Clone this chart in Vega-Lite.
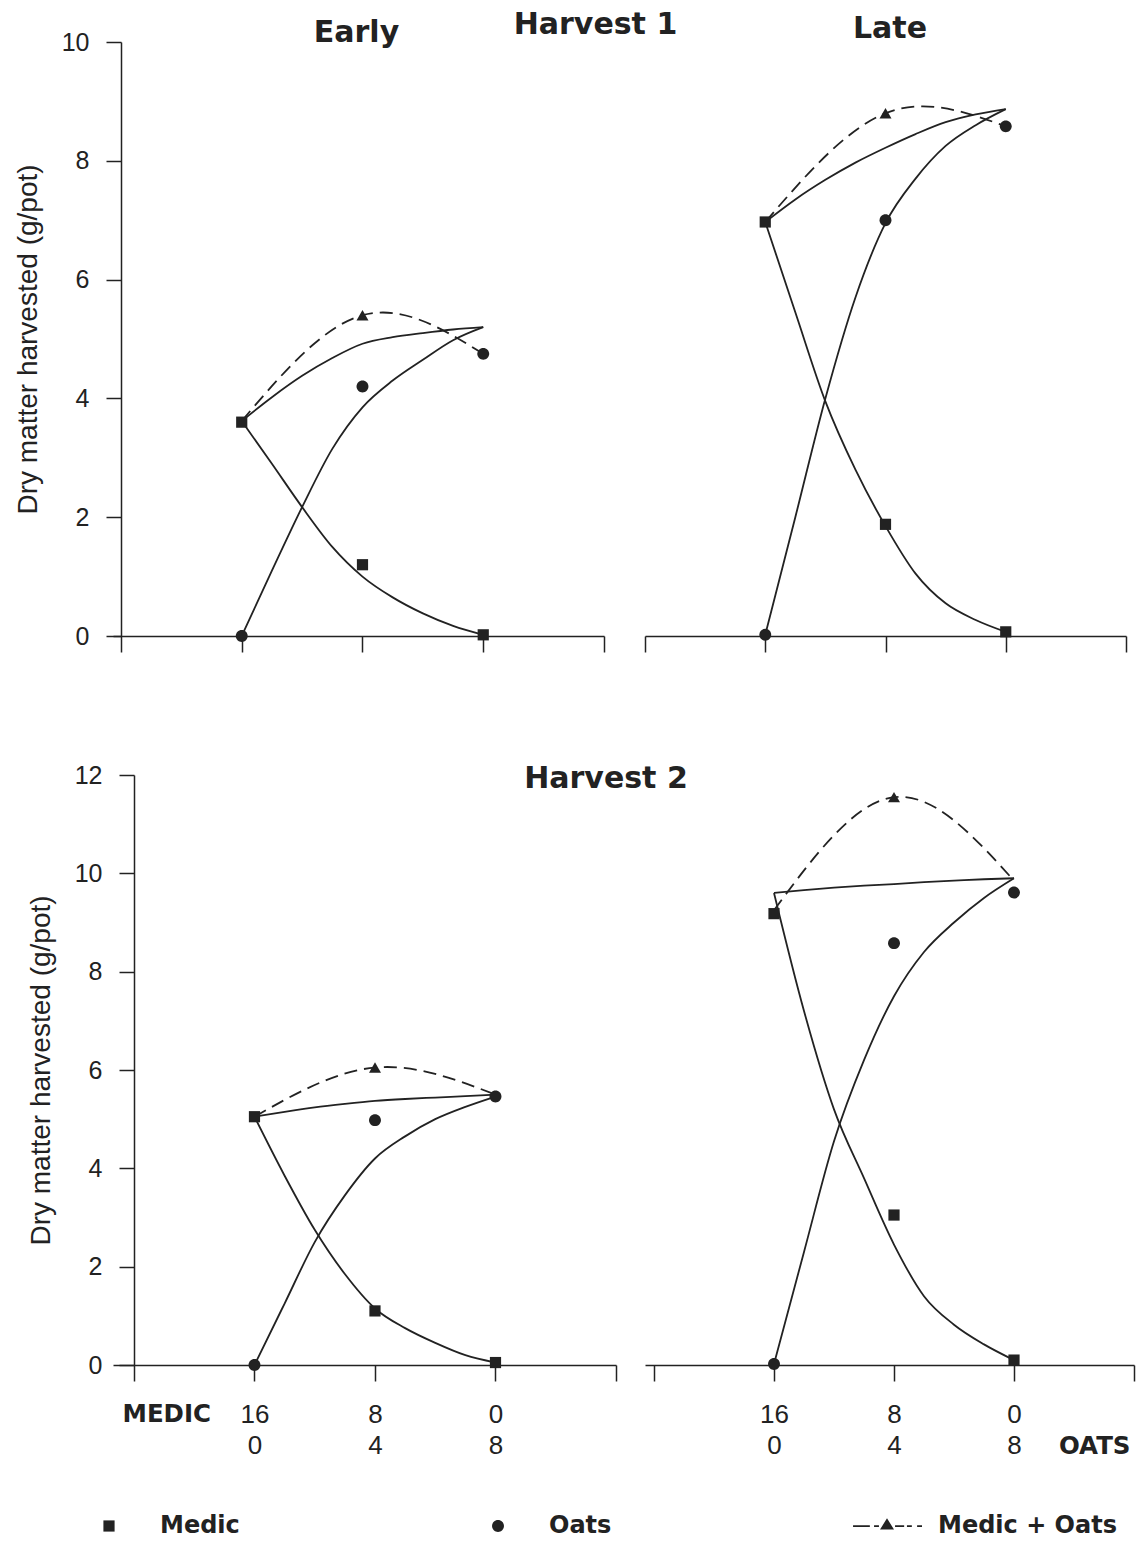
{
  "$schema": "https://vega.github.io/schema/vega-lite/v6.json",
  "background": "white",
  "padding": {"left": 14, "top": 10, "right": 5, "bottom": 5},
  "config": {"view": {"stroke": null}, "axis": {"grid": false}},
  "title": {"text": "Harvest 1", "font": "DejaVu Sans", "fontSize": 30, "fontWeight": "bold", "color": "#222", "anchor": "middle", "baseline": "alphabetic", "offset": -10, "dx": 21, "dy": 40},
  "datasets": {
    "obs": [
      {"panel": "H1E", "series": "Medic", "x": 1, "dm": 3.6},
      {"panel": "H1E", "series": "Medic", "x": 2, "dm": 1.2},
      {"panel": "H1E", "series": "Medic", "x": 3, "dm": 0.02},
      {"panel": "H1E", "series": "Oats", "x": 1, "dm": 0},
      {"panel": "H1E", "series": "Oats", "x": 2, "dm": 4.2},
      {"panel": "H1E", "series": "Oats", "x": 3, "dm": 4.75},
      {"panel": "H1L", "series": "Medic", "x": 1, "dm": 6.97},
      {"panel": "H1L", "series": "Medic", "x": 2, "dm": 1.88},
      {"panel": "H1L", "series": "Medic", "x": 3, "dm": 0.07},
      {"panel": "H1L", "series": "Oats", "x": 1, "dm": 0.02},
      {"panel": "H1L", "series": "Oats", "x": 2, "dm": 7.0},
      {"panel": "H1L", "series": "Oats", "x": 3, "dm": 8.58},
      {"panel": "H2E", "series": "Medic", "x": 1, "dm": 5.05},
      {"panel": "H2E", "series": "Medic", "x": 2, "dm": 1.1},
      {"panel": "H2E", "series": "Medic", "x": 3, "dm": 0.05},
      {"panel": "H2E", "series": "Oats", "x": 1, "dm": 0},
      {"panel": "H2E", "series": "Oats", "x": 2, "dm": 4.98},
      {"panel": "H2E", "series": "Oats", "x": 3, "dm": 5.46},
      {"panel": "H2L", "series": "Medic", "x": 1, "dm": 9.18},
      {"panel": "H2L", "series": "Medic", "x": 2, "dm": 3.05},
      {"panel": "H2L", "series": "Medic", "x": 3, "dm": 0.1},
      {"panel": "H2L", "series": "Oats", "x": 1, "dm": 0.02},
      {"panel": "H2L", "series": "Oats", "x": 2, "dm": 8.58},
      {"panel": "H2L", "series": "Oats", "x": 3, "dm": 9.61}
    ],
    "tot": [
      {"panel": "H1E", "x": 1, "dm": 3.62},
      {"panel": "H1E", "x": 2, "dm": 5.4},
      {"panel": "H1E", "x": 3, "dm": 4.75},
      {"panel": "H1L", "x": 1, "dm": 6.97},
      {"panel": "H1L", "x": 2, "dm": 8.8},
      {"panel": "H1L", "x": 3, "dm": 8.58},
      {"panel": "H2E", "x": 1, "dm": 5.05},
      {"panel": "H2E", "x": 2, "dm": 6.05},
      {"panel": "H2E", "x": 3, "dm": 5.5},
      {"panel": "H2L", "x": 1, "dm": 9.25},
      {"panel": "H2L", "x": 2, "dm": 11.55},
      {"panel": "H2L", "x": 3, "dm": 9.85}
    ],
    "fit": [
      {"panel": "H1E", "series": "Medic", "x": 1, "dm": 3.62},
      {"panel": "H1E", "series": "Medic", "x": 1.25, "dm": 2.9},
      {"panel": "H1E", "series": "Medic", "x": 1.5, "dm": 2.17},
      {"panel": "H1E", "series": "Medic", "x": 1.75, "dm": 1.5},
      {"panel": "H1E", "series": "Medic", "x": 2, "dm": 1.0},
      {"panel": "H1E", "series": "Medic", "x": 2.25, "dm": 0.65},
      {"panel": "H1E", "series": "Medic", "x": 2.5, "dm": 0.38},
      {"panel": "H1E", "series": "Medic", "x": 2.75, "dm": 0.17},
      {"panel": "H1E", "series": "Medic", "x": 3, "dm": 0.02},
      {"panel": "H1E", "series": "Oats", "x": 1, "dm": 0},
      {"panel": "H1E", "series": "Oats", "x": 1.25, "dm": 1.1},
      {"panel": "H1E", "series": "Oats", "x": 1.5, "dm": 2.17},
      {"panel": "H1E", "series": "Oats", "x": 1.75, "dm": 3.15},
      {"panel": "H1E", "series": "Oats", "x": 2, "dm": 3.85},
      {"panel": "H1E", "series": "Oats", "x": 2.25, "dm": 4.3},
      {"panel": "H1E", "series": "Oats", "x": 2.5, "dm": 4.65},
      {"panel": "H1E", "series": "Oats", "x": 2.75, "dm": 4.98},
      {"panel": "H1E", "series": "Oats", "x": 3, "dm": 5.2},
      {"panel": "H1E", "series": "Total", "x": 1, "dm": 3.62},
      {"panel": "H1E", "series": "Total", "x": 1.25, "dm": 4.02},
      {"panel": "H1E", "series": "Total", "x": 1.5, "dm": 4.38},
      {"panel": "H1E", "series": "Total", "x": 1.75, "dm": 4.68},
      {"panel": "H1E", "series": "Total", "x": 2, "dm": 4.92},
      {"panel": "H1E", "series": "Total", "x": 2.25, "dm": 5.03},
      {"panel": "H1E", "series": "Total", "x": 2.5, "dm": 5.1},
      {"panel": "H1E", "series": "Total", "x": 2.75, "dm": 5.16},
      {"panel": "H1E", "series": "Total", "x": 3, "dm": 5.2},
      {"panel": "H1L", "series": "Medic", "x": 1, "dm": 6.97},
      {"panel": "H1L", "series": "Medic", "x": 1.25, "dm": 5.45},
      {"panel": "H1L", "series": "Medic", "x": 1.5, "dm": 3.95},
      {"panel": "H1L", "series": "Medic", "x": 1.75, "dm": 2.8},
      {"panel": "H1L", "series": "Medic", "x": 2, "dm": 1.85},
      {"panel": "H1L", "series": "Medic", "x": 2.25, "dm": 1.05},
      {"panel": "H1L", "series": "Medic", "x": 2.5, "dm": 0.55},
      {"panel": "H1L", "series": "Medic", "x": 2.75, "dm": 0.27},
      {"panel": "H1L", "series": "Medic", "x": 3, "dm": 0.07},
      {"panel": "H1L", "series": "Oats", "x": 1, "dm": 0.02},
      {"panel": "H1L", "series": "Oats", "x": 1.25, "dm": 2.0},
      {"panel": "H1L", "series": "Oats", "x": 1.5, "dm": 4.0},
      {"panel": "H1L", "series": "Oats", "x": 1.75, "dm": 5.7},
      {"panel": "H1L", "series": "Oats", "x": 2, "dm": 6.95},
      {"panel": "H1L", "series": "Oats", "x": 2.25, "dm": 7.7},
      {"panel": "H1L", "series": "Oats", "x": 2.5, "dm": 8.25},
      {"panel": "H1L", "series": "Oats", "x": 2.75, "dm": 8.6},
      {"panel": "H1L", "series": "Oats", "x": 3, "dm": 8.87},
      {"panel": "H1L", "series": "Total", "x": 1, "dm": 6.97},
      {"panel": "H1L", "series": "Total", "x": 1.25, "dm": 7.35},
      {"panel": "H1L", "series": "Total", "x": 1.5, "dm": 7.68},
      {"panel": "H1L", "series": "Total", "x": 1.75, "dm": 7.97},
      {"panel": "H1L", "series": "Total", "x": 2, "dm": 8.22},
      {"panel": "H1L", "series": "Total", "x": 2.25, "dm": 8.45},
      {"panel": "H1L", "series": "Total", "x": 2.5, "dm": 8.65},
      {"panel": "H1L", "series": "Total", "x": 2.75, "dm": 8.78},
      {"panel": "H1L", "series": "Total", "x": 3, "dm": 8.87},
      {"panel": "H2E", "series": "Medic", "x": 1, "dm": 5.05},
      {"panel": "H2E", "series": "Medic", "x": 1.25, "dm": 3.85},
      {"panel": "H2E", "series": "Medic", "x": 1.5, "dm": 2.75},
      {"panel": "H2E", "series": "Medic", "x": 1.75, "dm": 1.85},
      {"panel": "H2E", "series": "Medic", "x": 2, "dm": 1.15},
      {"panel": "H2E", "series": "Medic", "x": 2.25, "dm": 0.75},
      {"panel": "H2E", "series": "Medic", "x": 2.5, "dm": 0.45},
      {"panel": "H2E", "series": "Medic", "x": 2.75, "dm": 0.2},
      {"panel": "H2E", "series": "Medic", "x": 3, "dm": 0.05},
      {"panel": "H2E", "series": "Oats", "x": 1, "dm": 0},
      {"panel": "H2E", "series": "Oats", "x": 1.25, "dm": 1.25},
      {"panel": "H2E", "series": "Oats", "x": 1.5, "dm": 2.5},
      {"panel": "H2E", "series": "Oats", "x": 1.75, "dm": 3.45},
      {"panel": "H2E", "series": "Oats", "x": 2, "dm": 4.2},
      {"panel": "H2E", "series": "Oats", "x": 2.25, "dm": 4.65},
      {"panel": "H2E", "series": "Oats", "x": 2.5, "dm": 5.0},
      {"panel": "H2E", "series": "Oats", "x": 2.75, "dm": 5.25},
      {"panel": "H2E", "series": "Oats", "x": 3, "dm": 5.46},
      {"panel": "H2E", "series": "Total", "x": 1, "dm": 5.05},
      {"panel": "H2E", "series": "Total", "x": 1.25, "dm": 5.15},
      {"panel": "H2E", "series": "Total", "x": 1.5, "dm": 5.24},
      {"panel": "H2E", "series": "Total", "x": 1.75, "dm": 5.31},
      {"panel": "H2E", "series": "Total", "x": 2, "dm": 5.37},
      {"panel": "H2E", "series": "Total", "x": 2.25, "dm": 5.41},
      {"panel": "H2E", "series": "Total", "x": 2.5, "dm": 5.44},
      {"panel": "H2E", "series": "Total", "x": 2.75, "dm": 5.47},
      {"panel": "H2E", "series": "Total", "x": 3, "dm": 5.5},
      {"panel": "H2L", "series": "Medic", "x": 1, "dm": 9.6},
      {"panel": "H2L", "series": "Medic", "x": 1.25, "dm": 7.2},
      {"panel": "H2L", "series": "Medic", "x": 1.5, "dm": 5.2},
      {"panel": "H2L", "series": "Medic", "x": 1.75, "dm": 3.8},
      {"panel": "H2L", "series": "Medic", "x": 2, "dm": 2.45},
      {"panel": "H2L", "series": "Medic", "x": 2.25, "dm": 1.4},
      {"panel": "H2L", "series": "Medic", "x": 2.5, "dm": 0.82},
      {"panel": "H2L", "series": "Medic", "x": 2.75, "dm": 0.42},
      {"panel": "H2L", "series": "Medic", "x": 3, "dm": 0.1},
      {"panel": "H2L", "series": "Oats", "x": 1, "dm": 0.02},
      {"panel": "H2L", "series": "Oats", "x": 1.25, "dm": 2.3},
      {"panel": "H2L", "series": "Oats", "x": 1.5, "dm": 4.55},
      {"panel": "H2L", "series": "Oats", "x": 1.75, "dm": 6.2},
      {"panel": "H2L", "series": "Oats", "x": 2, "dm": 7.5},
      {"panel": "H2L", "series": "Oats", "x": 2.25, "dm": 8.4},
      {"panel": "H2L", "series": "Oats", "x": 2.5, "dm": 9.0},
      {"panel": "H2L", "series": "Oats", "x": 2.75, "dm": 9.5},
      {"panel": "H2L", "series": "Oats", "x": 3, "dm": 9.9},
      {"panel": "H2L", "series": "Total", "x": 1, "dm": 9.6},
      {"panel": "H2L", "series": "Total", "x": 1.25, "dm": 9.66},
      {"panel": "H2L", "series": "Total", "x": 1.5, "dm": 9.71},
      {"panel": "H2L", "series": "Total", "x": 1.75, "dm": 9.75},
      {"panel": "H2L", "series": "Total", "x": 2, "dm": 9.78},
      {"panel": "H2L", "series": "Total", "x": 2.25, "dm": 9.82},
      {"panel": "H2L", "series": "Total", "x": 2.5, "dm": 9.85},
      {"panel": "H2L", "series": "Total", "x": 2.75, "dm": 9.88},
      {"panel": "H2L", "series": "Total", "x": 3, "dm": 9.9}
    ]
  },
  "columns": 2,
  "spacing": {"row": 139, "column": 29},
  "bounds": "flush",
  "resolve": {"scale": {"shape": "shared"}, "legend": {"shape": "shared"}},
  "concat": [
    {
      "width": 491, "height": 594,
      "title": {"text": "Early", "font": "DejaVu Sans", "fontSize": 30, "fontWeight": "bold", "color": "#222", "anchor": "middle", "baseline": "alphabetic", "offset": -14, "dx": -2, "dy": 28},
      "encoding": {
        "x": {"field": "x", "type": "quantitative", "scale": {"domain": [-0.066, 4], "nice": false, "zero": false},
          "axis": {"values": [0, 1, 2, 3, 4], "labels": false, "title": null, "tickSize": 16, "tickWidth": 1.5, "tickColor": "#222", "domainColor": "#222", "domainWidth": 1.5}},
        "y": {"field": "dm", "type": "quantitative", "scale": {"domain": [0, 10], "nice": false, "zero": false},
          "axis": {"values": [0, 2, 4, 6, 8, 10], "offset": -8, "tickSize": 15, "tickWidth": 1.5, "tickColor": "#222", "domainColor": "#222", "domainWidth": 1.5, "labelPadding": 17, "labelFont": "Liberation Sans", "labelFontSize": 25, "labelColor": "#222", "title": "Dry matter harvested (g/pot)", "titleFont": "Liberation Sans", "titleFontSize": 28, "titleFontWeight": "normal", "titleColor": "#222", "titlePadding": 19}}
      },
      "layer": [
        {"data": {"name": "fit"}, "transform": [{"filter": "datum.panel == 'H1E'"}], "mark": {"type": "line", "interpolate": "monotone", "color": "#222", "strokeWidth": 1.8}, "encoding": {"detail": {"field": "series", "type": "nominal"}}},
        {"data": {"name": "tot"}, "transform": [{"filter": "datum.panel == 'H1E'"}], "mark": {"type": "line", "interpolate": "natural", "color": "#222", "strokeWidth": 1.8, "strokeDash": [13, 7]}, "encoding": {}},
        {"data": {"name": "tot"}, "transform": [{"filter": "datum.panel == 'H1E' && datum.x == 2"}], "mark": {"type": "point", "shape": "triangle-up", "filled": true, "size": 144, "color": "#222", "opacity": 1}},
        {"data": {"name": "obs"}, "transform": [{"filter": "datum.panel == 'H1E'"}], "mark": {"type": "point", "filled": true, "size": 4900, "color": "#222", "opacity": 1},
          "encoding": {"shape": {"field": "series", "type": "nominal",
            "scale": {"domain": ["Medic", "Oats", "Medic + Oats"], "range": ["M-0.16,-0.16H0.16V0.16H-0.16Z", "M0.17,0A0.17,0.17,0,1,1,-0.17,0A0.17,0.17,0,1,1,0.17,0Z", "M-0.97,-0.025H-0.49V0.025H-0.97ZM-0.37,-0.025H-0.23V0.025H-0.37ZM0,-0.22L0.2,0.1H-0.2ZM0.23,-0.025H0.49V0.025H0.23ZM0.57,-0.025H0.71V0.025H0.57ZM0.86,-0.025H1V0.025H0.86Z"]},
            "legend": {"orient": "none", "legendX": -40, "legendY": 1448, "direction": "horizontal", "columns": 3, "gridAlign": "all", "columnPadding": 122, "symbolSize": 4900, "symbolOpacity": 1, "labelFont": "DejaVu Sans", "labelFontWeight": "bold", "labelFontSize": 24, "labelColor": "#222", "labelOffset": 15, "labelLimit": 400, "title": null, "padding": 0}}}}
      ]
    },
    {
      "width": 481, "height": 594,
      "title": {"text": "Late", "font": "DejaVu Sans", "fontSize": 30, "fontWeight": "bold", "color": "#222", "anchor": "middle", "baseline": "alphabetic", "offset": 3, "dx": 4.5, "dy": 29},
      "encoding": {
        "x": {"field": "x", "type": "quantitative", "scale": {"domain": [0, 4], "nice": false, "zero": false},
          "axis": {"values": [0, 1, 2, 3, 4], "labels": false, "title": null, "tickSize": 16, "tickWidth": 1.5, "tickColor": "#222", "domainColor": "#222", "domainWidth": 1.5}},
        "y": {"field": "dm", "type": "quantitative", "scale": {"domain": [0, 10], "nice": false, "zero": false}, "axis": null}
      },
      "layer": [
        {"data": {"name": "fit"}, "transform": [{"filter": "datum.panel == 'H1L'"}], "mark": {"type": "line", "interpolate": "monotone", "color": "#222", "strokeWidth": 1.8}, "encoding": {"detail": {"field": "series", "type": "nominal"}}},
        {"data": {"name": "tot"}, "transform": [{"filter": "datum.panel == 'H1L'"}], "mark": {"type": "line", "interpolate": "natural", "color": "#222", "strokeWidth": 1.8, "strokeDash": [13, 7]}, "encoding": {}},
        {"data": {"name": "tot"}, "transform": [{"filter": "datum.panel == 'H1L' && datum.x == 2"}], "mark": {"type": "point", "shape": "triangle-up", "filled": true, "size": 144, "color": "#222", "opacity": 1}},
        {"data": {"name": "obs"}, "transform": [{"filter": "datum.panel == 'H1L'"}], "mark": {"type": "point", "filled": true, "size": 4900, "color": "#222", "opacity": 1},
          "encoding": {"shape": {"field": "series", "type": "nominal",
            "scale": {"domain": ["Medic", "Oats", "Medic + Oats"], "range": ["M-0.16,-0.16H0.16V0.16H-0.16Z", "M0.17,0A0.17,0.17,0,1,1,-0.17,0A0.17,0.17,0,1,1,0.17,0Z", "M-0.97,-0.025H-0.49V0.025H-0.97ZM-0.37,-0.025H-0.23V0.025H-0.37ZM0,-0.22L0.2,0.1H-0.2ZM0.23,-0.025H0.49V0.025H0.23ZM0.57,-0.025H0.71V0.025H0.57ZM0.86,-0.025H1V0.025H0.86Z"]}}}}
      ]
    },
    {
      "width": 503, "height": 590,
      "title": {"text": "Harvest 2", "font": "DejaVu Sans", "fontSize": 30, "fontWeight": "bold", "color": "#222", "anchor": "start", "baseline": "alphabetic", "offset": -25, "dx": 497, "dy": 30},
      "encoding": {
        "x": {"field": "x", "type": "quantitative", "scale": {"domain": [-0.174, 4], "nice": false, "zero": false},
          "axis": {"values": [0, 1, 2, 3, 4], "labelExpr": "datum.value == 1 ? ['16', '0'] : datum.value == 2 ? ['8', '4'] : datum.value == 3 ? ['0', '8'] : ''", "labelOverlap": false, "labelFlush": false, "labelFont": "Liberation Sans", "labelFontSize": 26, "labelLineHeight": 31.5, "labelPadding": 20, "labelColor": "#222", "tickSize": 16, "tickWidth": 1.5, "tickColor": "#222", "domainColor": "#222", "domainWidth": 1.5,
            "title": "MEDIC", "titleFont": "DejaVu Sans", "titleFontWeight": "bold", "titleFontSize": 24.5, "titleColor": "#222", "titleAlign": "left", "titleBaseline": "alphabetic", "titleX": 9, "titleY": 56}},
        "y": {"field": "dm", "type": "quantitative", "scale": {"domain": [0, 12], "nice": false, "zero": false},
          "axis": {"values": [0, 2, 4, 6, 8, 10, 12], "offset": -21, "tickSize": 15, "tickWidth": 1.5, "tickColor": "#222", "domainColor": "#222", "domainWidth": 1.5, "labelPadding": 17, "labelFont": "Liberation Sans", "labelFontSize": 25, "labelColor": "#222", "title": "Dry matter harvested (g/pot)", "titleFont": "Liberation Sans", "titleFontSize": 28, "titleFontWeight": "normal", "titleColor": "#222", "titlePadding": 19}}
      },
      "layer": [
        {"data": {"name": "fit"}, "transform": [{"filter": "datum.panel == 'H2E'"}], "mark": {"type": "line", "interpolate": "monotone", "color": "#222", "strokeWidth": 1.8}, "encoding": {"detail": {"field": "series", "type": "nominal"}}},
        {"data": {"name": "tot"}, "transform": [{"filter": "datum.panel == 'H2E'"}], "mark": {"type": "line", "interpolate": "natural", "color": "#222", "strokeWidth": 1.8, "strokeDash": [13, 7]}, "encoding": {}},
        {"data": {"name": "tot"}, "transform": [{"filter": "datum.panel == 'H2E' && datum.x == 2"}], "mark": {"type": "point", "shape": "triangle-up", "filled": true, "size": 144, "color": "#222", "opacity": 1}},
        {"data": {"name": "obs"}, "transform": [{"filter": "datum.panel == 'H2E'"}], "mark": {"type": "point", "filled": true, "size": 4900, "color": "#222", "opacity": 1},
          "encoding": {"shape": {"field": "series", "type": "nominal",
            "scale": {"domain": ["Medic", "Oats", "Medic + Oats"], "range": ["M-0.16,-0.16H0.16V0.16H-0.16Z", "M0.17,0A0.17,0.17,0,1,1,-0.17,0A0.17,0.17,0,1,1,0.17,0Z", "M-0.97,-0.025H-0.49V0.025H-0.97ZM-0.37,-0.025H-0.23V0.025H-0.37ZM0,-0.22L0.2,0.1H-0.2ZM0.23,-0.025H0.49V0.025H0.23ZM0.57,-0.025H0.71V0.025H0.57ZM0.86,-0.025H1V0.025H0.86Z"]}}}}
      ]
    },
    {
      "width": 489, "height": 590,
      "encoding": {
        "x": {"field": "x", "type": "quantitative", "scale": {"domain": [-0.075, 4], "nice": false, "zero": false},
          "axis": {"values": [0, 1, 2, 3, 4], "labelExpr": "datum.value == 1 ? ['16', '0'] : datum.value == 2 ? ['8', '4'] : datum.value == 3 ? ['0', '8'] : ''", "labelOverlap": false, "labelFlush": false, "labelFont": "Liberation Sans", "labelFontSize": 26, "labelLineHeight": 31.5, "labelPadding": 20, "labelColor": "#222", "tickSize": 16, "tickWidth": 1.5, "tickColor": "#222", "domainColor": "#222", "domainWidth": 1.5,
            "title": "OATS", "titleFont": "DejaVu Sans", "titleFontWeight": "bold", "titleFontSize": 24.5, "titleColor": "#222", "titleAlign": "right", "titleBaseline": "alphabetic", "titleX": 485, "titleY": 88}},
        "y": {"field": "dm", "type": "quantitative", "scale": {"domain": [0, 12], "nice": false, "zero": false}, "axis": null}
      },
      "layer": [
        {"data": {"name": "fit"}, "transform": [{"filter": "datum.panel == 'H2L'"}], "mark": {"type": "line", "interpolate": "monotone", "color": "#222", "strokeWidth": 1.8}, "encoding": {"detail": {"field": "series", "type": "nominal"}}},
        {"data": {"name": "tot"}, "transform": [{"filter": "datum.panel == 'H2L'"}], "mark": {"type": "line", "interpolate": "natural", "color": "#222", "strokeWidth": 1.8, "strokeDash": [13, 7]}, "encoding": {}},
        {"data": {"name": "tot"}, "transform": [{"filter": "datum.panel == 'H2L' && datum.x == 2"}], "mark": {"type": "point", "shape": "triangle-up", "filled": true, "size": 144, "color": "#222", "opacity": 1}},
        {"data": {"name": "obs"}, "transform": [{"filter": "datum.panel == 'H2L'"}], "mark": {"type": "point", "filled": true, "size": 4900, "color": "#222", "opacity": 1},
          "encoding": {"shape": {"field": "series", "type": "nominal",
            "scale": {"domain": ["Medic", "Oats", "Medic + Oats"], "range": ["M-0.16,-0.16H0.16V0.16H-0.16Z", "M0.17,0A0.17,0.17,0,1,1,-0.17,0A0.17,0.17,0,1,1,0.17,0Z", "M-0.97,-0.025H-0.49V0.025H-0.97ZM-0.37,-0.025H-0.23V0.025H-0.37ZM0,-0.22L0.2,0.1H-0.2ZM0.23,-0.025H0.49V0.025H0.23ZM0.57,-0.025H0.71V0.025H0.57ZM0.86,-0.025H1V0.025H0.86Z"]}}}}
      ]
    }
  ]
}
